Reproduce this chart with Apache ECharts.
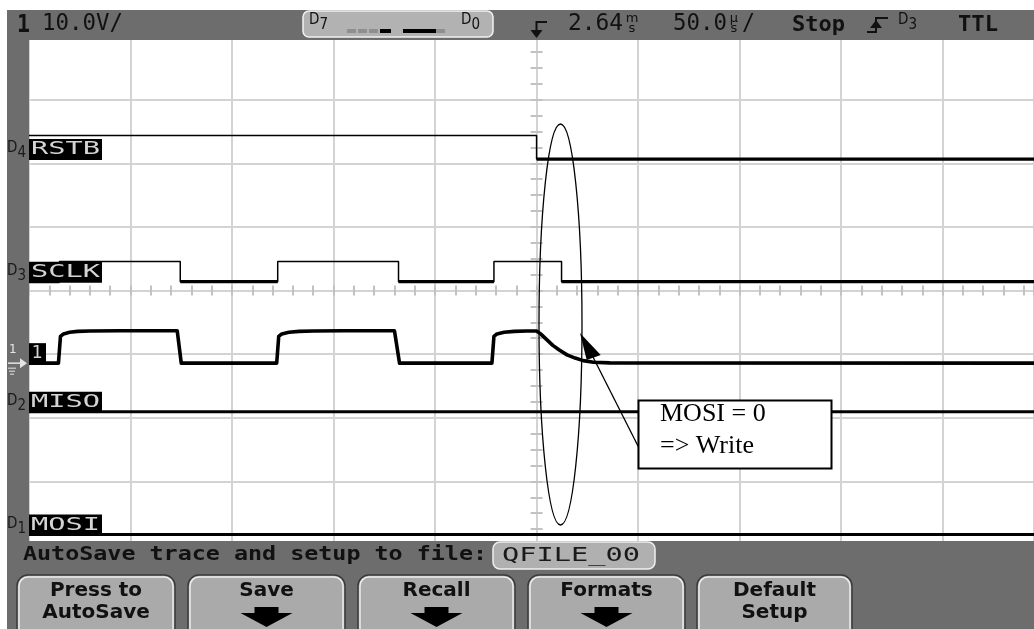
<!DOCTYPE html>
<html>
<head>
<meta charset="utf-8">
<title>SPI write - scope capture</title>
<script src="https://cdn.jsdelivr.net/npm/echarts@6/dist/echarts.min.js"></script>
<style>
  html, body { margin: 0; padding: 0; background: #fff; }
  #scope { width: 1034px; height: 629px; }
</style>
</head>
<body>
<div id="scope"></div>
<script>
// time axis in µs (50 µs/div, trigger at 0); vertical axis in divisions from screen centre
const timeRange = [-250, 245];
const divRange = [-4, 4];

// digital channels: edge times (µs) and logic level before the first edge
const channelNames = ['RSTB', 'SCLK', 'MISO', 'MOSI'];
const channelBits = ['4', '3', '2', '1'];
const channelStart = [1, 0, 0, 0];
const rstbEdges = [0];
const sclkEdges = [-235, -175.5, -127.5, -68, -21, 12.3];
const misoEdges = [];
const mosiEdges = [];
const channelEdges = [rstbEdges, sclkEdges, misoEdges, mosiEdges];

// analog channel 1, 10 V/div
const ch1Time = [-250, -235.5, -234.5, -233, -230, -226, -220, -205, -177, -175,
  -128, -127, -125.5, -122, -117, -110, -95, -70, -67.5,
  -22, -21, -19.5, -16, -11, -5, 0, 2, 5, 8, 11, 15, 19, 23, 28, 36, 245];
const ch1Volt = [0, 0, 4.2, 4.6, 4.85, 5.0, 5.05, 5.1, 5.1, 0,
  0, 4.2, 4.6, 4.85, 5.0, 5.05, 5.1, 5.1, 0,
  0, 4.2, 4.6, 4.85, 5.0, 5.05, 5.05, 4.6, 3.7, 2.8, 2.1, 1.3, 0.8, 0.4, 0.15, 0.05, 0];

// D7..D0 on/off in the status bar
const digitalOn = [0, 0, 0, 1, 1, 1, 1, 0];

const softkeys = [['Press to', 'AutoSave'], ['Save'], ['Recall'], ['Formats'], ['Default', 'Setup']];
const softkeyMenu = [false, true, true, true, false];

// screen layout (divisions)
const channelLow = [2.066, 0.139, -1.906, -3.835];
const channelSwing = [0.372, 0.315, 0.35, 0.35];
const ch1Ground = -1.142;
const ch1VoltsPerDiv = 10;

const scopeGray = '#6d6d6d';
const keyGray = '#aaaaaa';
const gridGray = '#d3d3d3';

function buildTrace(edges, start, low, swing) {
  let lvl = start;
  const pts = [[timeRange[0], low + lvl * swing]];
  edges.forEach(t => {
    lvl = 1 - lvl;
    pts.push([t, low + lvl * swing]);
  });
  pts.push([timeRange[1], low + lvl * swing]);
  return pts;
}

// only the low stretches, drawn heavier like the scope does
function lowStretches(edges, start, low) {
  const bounds = [timeRange[0]].concat(edges, [timeRange[1]]);
  const out = [];
  let lvl = start;
  for (let i = 0; i < bounds.length - 1; i++) {
    if (lvl === 0) out.push([bounds[i], low], [bounds[i + 1], low], ['-', '-']);
    lvl = 1 - lvl;
  }
  return out;
}

const series = [];
channelNames.forEach((name, i) => {
  series.push({
    type: 'line', name: name, step: 'end', symbol: 'none', silent: true, z: 3,
    data: buildTrace(channelEdges[i], channelStart[i], channelLow[i], channelSwing[i]),
    lineStyle: { color: '#000', width: 1.5 }
  });
  series.push({
    type: 'line', name: name + ' low', symbol: 'none', silent: true, z: 4, connectNulls: false,
    data: lowStretches(channelEdges[i], channelStart[i], channelLow[i]),
    lineStyle: { color: '#000', width: 3.2 }
  });
});
series.push({
  type: 'line', name: '1', symbol: 'none', silent: true, z: 5,
  data: ch1Time.map((t, i) => [t, ch1Ground + ch1Volt[i] / ch1VoltsPerDiv]),
  lineStyle: { color: '#000', width: 3.6, join: 'round' }
});

const tickStyle = { color: '#c2c2c2', width: 2 };
function timeAxis(pos, grid) {
  return {
    type: 'value', min: timeRange[0], max: timeRange[1], interval: 50, position: pos,
    axisLabel: { show: false },
    axisLine: { show: true, onZero: true, lineStyle: { color: gridGray, width: 2 } },
    axisTick: { show: true, length: 5, lineStyle: tickStyle },
    minorTick: { show: true, splitNumber: 5, length: 5, lineStyle: tickStyle },
    splitLine: { show: grid, lineStyle: { color: gridGray, width: 2 } }
  };
}
function divAxis(pos, grid) {
  return {
    type: 'value', min: divRange[0], max: divRange[1], interval: 1, position: pos,
    axisLabel: { show: false },
    axisLine: { show: true, onZero: true, lineStyle: { color: gridGray, width: 2 } },
    axisTick: { show: true, length: 6, lineStyle: tickStyle },
    minorTick: { show: true, splitNumber: 4, length: 6, lineStyle: tickStyle },
    splitLine: { show: grid, lineStyle: { color: gridGray, width: 2 } }
  };
}

const chart = echarts.init(document.getElementById('scope'));
chart.setOption({
  animation: false,
  backgroundColor: '#fff',
  grid: { left: 29, right: 0, top: 36, bottom: 84, containLabel: false, outerBoundsMode: 'none' },
  xAxis: [timeAxis('bottom', true), timeAxis('top', false)],
  yAxis: [divAxis('left', true), divAxis('right', false)],
  series: series
});

const px = t => chart.convertToPixel({ xAxisIndex: 0 }, t);
const py = v => chart.convertToPixel({ yAxisIndex: 0 }, v);

function monoText(text, x, y, size, width, opts) {
  opts = opts || {};
  const natural = text.length * 0.602 * size;
  return {
    type: 'text', x: x, y: y, z: opts.z || 100, scaleX: width ? width / natural : 1,
    style: {
      text: text,
      font: (opts.bold ? 'bold ' : '') + size + 'px "DejaVu Sans Mono"',
      fill: opts.color || '#111',
      align: opts.align || 'left',
      verticalAlign: 'middle'
    }
  };
}
function sansText(text, x, y, font, opts) {
  opts = opts || {};
  return {
    type: 'text', x: x, y: y, z: opts.z || 100,
    style: { text: text, font: font, fill: opts.color || '#111', align: opts.align || 'left', verticalAlign: 'middle', lineHeight: opts.lineHeight }
  };
}
// "D" with a lowered bit number, as the scope prints it
function bitTag(bit, x, y, color) {
  return {
    type: 'text', x: x, y: y, z: 100,
    style: {
      text: '{d|D}{s|' + bit + '}', align: 'left', verticalAlign: 'middle',
      rich: {
        d: { font: '15px "DejaVu Sans Condensed"', fill: color, verticalAlign: 'top', lineHeight: 20 },
        s: { font: '15px "DejaVu Sans Condensed"', fill: color, verticalAlign: 'bottom', lineHeight: 20 }
      }
    }
  };
}
function box(x, y, w, h, fill, z, extra) {
  return Object.assign({ type: 'rect', z: z || 90, shape: { x: x, y: y, width: w, height: h }, style: { fill: fill } }, extra || {});
}

const G = [];
// bezel
G.push(box(7, 10, 1027, 30, scopeGray));
G.push(box(7, 10, 22, 531, scopeGray));
G.push(box(7, 541, 1027, 88, scopeGray));

// status bar
G.push(monoText('1', 17, 25, 25, 13, { bold: true }));
G.push(monoText('10.0V/', 42, 24, 23, 81));
G.push({ type: 'rect', z: 95, shape: { x: 303, y: 11, width: 190, height: 26, r: 6 },
  style: { fill: '#b2b2b2', stroke: '#f2f2f2', lineWidth: 1.5 } });
G.push(bitTag('7', 309, 23, '#111'));
G.push(bitTag('0', 461, 23, '#111'));
digitalOn.forEach((on, i) => {
  const x = 347 + i * 11 + (i > 3 ? 12 : 0);
  G.push(box(x, 29, on ? 11 : 9, 4, on ? '#000' : '#8f8f8f', 100));
});
// trigger position marker
G.push({ type: 'polyline', z: 100, shape: { points: [[547, 22], [536.5, 22], [536.5, 31]] }, style: { stroke: '#111', lineWidth: 2, fill: null } });
G.push({ type: 'polygon', z: 100, shape: { points: [[530.5, 30], [542.5, 30], [536.5, 38]] }, style: { fill: '#111' } });
G.push(monoText('2.64', 568, 24, 23, 55));
G.push(sansText('m\ns', 632, 24, '13px "DejaVu Sans"', { align: 'center', lineHeight: 10 }));
G.push(monoText('50.0', 673, 24, 23, 54));
G.push(sansText('µ\ns', 734, 24, '13px "DejaVu Sans"', { align: 'center', lineHeight: 10 }));
G.push(monoText('/', 742, 24, 23, 13));
G.push(monoText('Stop', 792, 25, 22, 53, { bold: true }));
// trigger edge symbol
G.push({ type: 'polyline', z: 100, shape: { points: [[867, 32], [876, 32], [876, 18], [888, 18]] }, style: { stroke: '#111', lineWidth: 2, fill: null } });
G.push({ type: 'polygon', z: 100, shape: { points: [[870, 28], [882, 28], [876, 20]] }, style: { fill: '#111' } });
G.push(bitTag('3', 898, 23, '#111'));
G.push(monoText('TTL', 958, 25, 22, 40, { bold: true }));

// channel labels
channelNames.forEach((name, i) => {
  const y = py(channelLow[i]);
  G.push(box(28, y - 20, 74, 21, '#000', 80));
  G.push(monoText(name, 31, y - 9.5, 18, 69, { color: '#d4d4d4', z: 81 }));
  G.push(bitTag(channelBits[i], 7, y - 8, '#1a1a1a'));
});
const gY = py(ch1Ground);
G.push(box(28, gY - 20, 18, 21, '#000', 80));
G.push(monoText('1', 37, gY - 9.5, 18, 0, { color: '#d4d4d4', z: 81, align: 'center' }));
G.push(sansText('1', 9, gY - 13, '12px "DejaVu Sans"', { color: '#e6e6e6' }));
G.push({ type: 'line', z: 100, shape: { x1: 8, y1: gY, x2: 22, y2: gY }, style: { stroke: '#e6e6e6', lineWidth: 1.5 } });
G.push({ type: 'polygon', z: 100, shape: { points: [[20, gY - 5], [27, gY], [20, gY + 5]] }, style: { fill: '#e6e6e6' } });
[[8, 16, 5], [9, 15, 8], [10, 14, 11]].forEach(g => {
  G.push({ type: 'line', z: 100, shape: { x1: g[0], y1: gY + g[2], x2: g[1], y2: gY + g[2] }, style: { stroke: '#e6e6e6', lineWidth: 1 } });
});

// save bar and softkeys
G.push(monoText('AutoSave trace and setup to file:', 23, 555, 19, 464, { bold: true }));
G.push({ type: 'rect', z: 95, shape: { x: 493, y: 542, width: 162, height: 27, r: 7 },
  style: { fill: '#b0b0b0', stroke: '#efefef', lineWidth: 1.5 } });
G.push(monoText('QFILE_00', 502, 556, 20, 138, { color: '#1a1a1a' }));
const keyLeft = [17, 188, 358, 528, 697];
const keyRight = [175, 345, 515, 685, 852];
softkeys.forEach((lines, i) => {
  const l = keyLeft[i], r = keyRight[i], cx = (l + r) / 2;
  G.push({ type: 'rect', z: 95, shape: { x: l, y: 575, width: r - l, height: 70, r: 11 },
    style: { fill: keyGray, stroke: '#3a3a3a', lineWidth: 1.5 } });
  G.push({ type: 'rect', z: 96, shape: { x: l + 2, y: 577, width: r - l - 4, height: 70, r: 9 },
    style: { fill: null, stroke: '#ededed', lineWidth: 1.5 } });
  lines.forEach((txt, k) => {
    G.push(sansText(txt, cx, 591 + k * 22, 'bold 20px "DejaVu Sans"', { align: 'center' }));
  });
  if (softkeyMenu[i]) {
    G.push({ type: 'polygon', z: 100, shape: { points: [[cx - 12, 607], [cx + 12, 607], [cx + 12, 613], [cx + 26, 613], [cx, 627], [cx - 26, 613], [cx - 12, 613]] },
      style: { fill: '#000' } });
  }
});

// annotation drawn over the capture
G.push({ type: 'ellipse', z: 110, shape: { cx: 560.5, cy: 324.5, rx: 21.5, ry: 200.5 }, style: { fill: null, stroke: '#000', lineWidth: 1.3 } });
G.push({ type: 'line', z: 110, shape: { x1: 639, y1: 448, x2: 593, y2: 357 }, style: { stroke: '#000', lineWidth: 1.3 } });
G.push({ type: 'polygon', z: 110, shape: { points: [[580, 333], [600.7, 355], [586.7, 360]] }, style: { fill: '#000' } });
G.push({ type: 'rect', z: 110, shape: { x: 638.5, y: 400.5, width: 193, height: 68 }, style: { fill: '#fff', stroke: '#000', lineWidth: 2 } });
G.push(sansText('MOSI = 0', 660, 414, '26px "Liberation Serif"', { color: '#000', z: 112 }));
G.push(sansText('=> Write', 660, 446, '26px "Liberation Serif"', { color: '#000', z: 112 }));

chart.setOption({ graphic: G });
</script>
</body>
</html>
